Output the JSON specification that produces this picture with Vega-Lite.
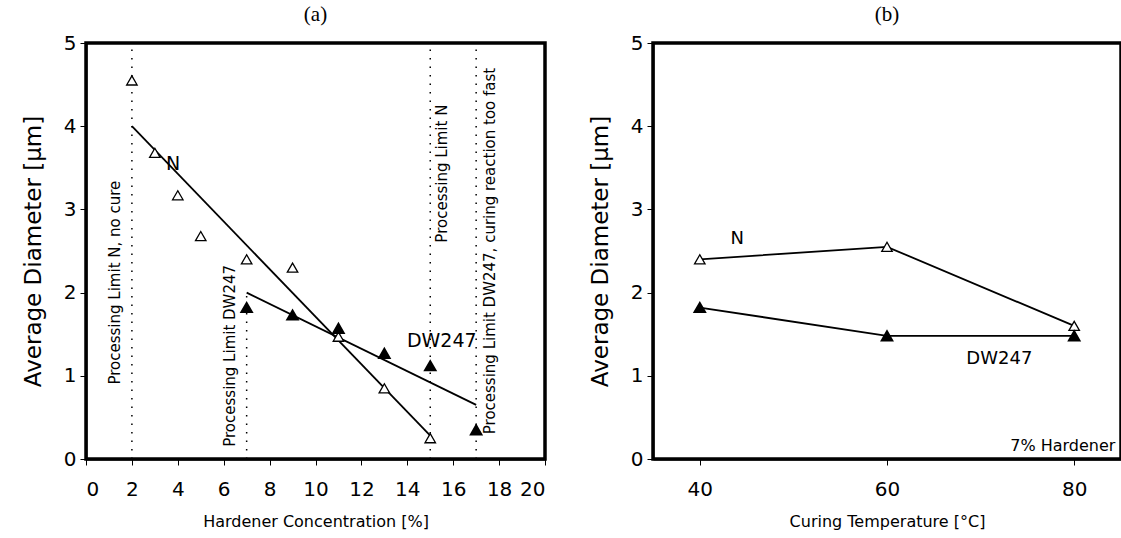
{
  "$schema": "https://vega.github.io/schema/vega-lite/v6.json",
  "background": "white",
  "padding": {"left": 20, "top": 2, "right": 0, "bottom": 0},
  "spacing": 39,
  "config": {
    "view": {"stroke": "black", "strokeWidth": 3.5},
    "font": "DejaVu Sans",
    "axis": {
      "grid": false, "domainColor": "black", "domainWidth": 2, "tickColor": "black", "tickSize": 6,
      "labelColor": "black", "labelFontSize": 20, "labelFont": "DejaVu Sans",
      "titleColor": "black", "titleFontSize": 16, "titleFontWeight": "normal", "titleFont": "DejaVu Sans"
    },
    "axisY": {"titleFontSize": 23, "format": "d"},
    "title": {"font": "Liberation Serif", "fontSize": 21, "fontWeight": "normal", "color": "black", "offset": 8}
  },
  "datasets": {
    "pa": [
      {"x": 2, "y": 4.55, "s": "N"}, {"x": 3, "y": 3.68, "s": "N"}, {"x": 4, "y": 3.17, "s": "N"},
      {"x": 5, "y": 2.68, "s": "N"}, {"x": 7, "y": 2.4, "s": "N"}, {"x": 9, "y": 2.3, "s": "N"},
      {"x": 11, "y": 1.47, "s": "N"}, {"x": 13, "y": 0.85, "s": "N"}, {"x": 15, "y": 0.25, "s": "N"},
      {"x": 7, "y": 1.82, "s": "DW247"}, {"x": 9, "y": 1.73, "s": "DW247"}, {"x": 11, "y": 1.57, "s": "DW247"},
      {"x": 13, "y": 1.27, "s": "DW247"}, {"x": 15, "y": 1.12, "s": "DW247"}, {"x": 17, "y": 0.35, "s": "DW247"}
    ],
    "fa": [
      {"x": 2, "y": 4.0, "s": "N"}, {"x": 15, "y": 0.28, "s": "N"},
      {"x": 7, "y": 2.0, "s": "DW247"}, {"x": 17, "y": 0.65, "s": "DW247"}
    ],
    "ra": [
      {"x": 2, "y": 0, "y2": 5},
      {"x": 7, "y": 0, "y2": 2.0},
      {"x": 15, "y": 0, "y2": 5},
      {"x": 17, "y": 0, "y2": 5}
    ],
    "ta": [
      {"x": 1.26, "y": 2.12, "t": "Processing Limit N, no cure"},
      {"x": 6.27, "y": 1.24, "t": "Processing Limit DW247"},
      {"x": 15.5, "y": 3.43, "t": "Processing Limit N"},
      {"x": 17.6, "y": 2.5, "t": "Processing Limit DW247, curing reaction too fast"}
    ],
    "la": [
      {"x": 3.8, "y": 3.55, "t": "N"},
      {"x": 15.5, "y": 1.42, "t": "DW247"}
    ],
    "pb": [
      {"x": 40, "y": 2.4, "s": "N"}, {"x": 60, "y": 2.55, "s": "N"}, {"x": 80, "y": 1.6, "s": "N"},
      {"x": 40, "y": 1.82, "s": "DW247"}, {"x": 60, "y": 1.48, "s": "DW247"}, {"x": 80, "y": 1.48, "s": "DW247"}
    ],
    "lb": [
      {"x": 44, "y": 2.64, "t": "N"},
      {"x": 72, "y": 1.2, "t": "DW247"}
    ]
  },
  "hconcat": [
    {
      "title": "(a)",
      "width": 459,
      "height": 416,
      "layer": [
        {
          "data": {"name": "ra"},
          "mark": {"type": "rule", "color": "black", "strokeWidth": 1.5, "strokeDash": [1.5, 7]},
          "encoding": {
            "x": {"field": "x", "type": "quantitative", "scale": {"domain": [0, 20], "nice": false},
                  "axis": {"values": [0,2,4,6,8,10,12,14,16,18,20], "title": "Hardener Concentration [%]", "labelPadding": 14, "titlePadding": 14}},
            "y": {"field": "y", "type": "quantitative", "scale": {"domain": [0, 5], "nice": false},
                  "axis": {"values": [0,1,2,3,4,5], "title": "Average Diameter [\u03bcm]", "labelPadding": 4, "titlePadding": 18}},
            "y2": {"field": "y2"}
          }
        },
        {
          "data": {"name": "fa"},
          "mark": {"type": "line", "color": "black", "strokeWidth": 1.8},
          "encoding": {
            "x": {"field": "x", "type": "quantitative"},
            "y": {"field": "y", "type": "quantitative"},
            "detail": {"field": "s"}
          }
        },
        {
          "data": {"name": "pa"},
          "transform": [{"filter": "datum.s === 'N'"}],
          "mark": {"type": "point", "shape": "triangle-up", "filled": true, "fill": "white", "stroke": "black", "strokeWidth": 1.3, "size": 110, "opacity": 1},
          "encoding": {
            "x": {"field": "x", "type": "quantitative"},
            "y": {"field": "y", "type": "quantitative"}
          }
        },
        {
          "data": {"name": "pa"},
          "transform": [{"filter": "datum.s === 'DW247'"}],
          "mark": {"type": "point", "shape": "triangle-up", "filled": true, "fill": "black", "stroke": "black", "size": 110, "opacity": 1},
          "encoding": {
            "x": {"field": "x", "type": "quantitative"},
            "y": {"field": "y", "type": "quantitative"}
          }
        },
        {
          "data": {"name": "ta"},
          "mark": {"type": "text", "angle": 270, "fontSize": 15, "font": "DejaVu Sans", "color": "black", "align": "center", "baseline": "middle"},
          "encoding": {
            "x": {"field": "x", "type": "quantitative"},
            "y": {"field": "y", "type": "quantitative"},
            "text": {"field": "t"}
          }
        },
        {
          "data": {"name": "la"},
          "mark": {"type": "text", "fontSize": 19, "font": "DejaVu Sans", "color": "black", "align": "center", "baseline": "middle"},
          "encoding": {
            "x": {"field": "x", "type": "quantitative"},
            "y": {"field": "y", "type": "quantitative"},
            "text": {"field": "t"}
          }
        }
      ]
    },
    {
      "title": "(b)",
      "width": 468,
      "height": 416,
      "layer": [
        {
          "data": {"name": "pb"},
          "mark": {"type": "line", "color": "black", "strokeWidth": 1.8},
          "encoding": {
            "x": {"field": "x", "type": "quantitative", "scale": {"domain": [35, 85], "nice": false},
                  "axis": {"values": [40, 60, 80], "title": "Curing Temperature [\u00b0C]", "labelPadding": 14, "titlePadding": 14}},
            "y": {"field": "y", "type": "quantitative", "scale": {"domain": [0, 5], "nice": false},
                  "axis": {"values": [0,1,2,3,4,5], "title": "Average Diameter [\u03bcm]", "labelPadding": 4, "titlePadding": 18}},
            "detail": {"field": "s"}
          }
        },
        {
          "data": {"name": "pb"},
          "transform": [{"filter": "datum.s === 'N'"}],
          "mark": {"type": "point", "shape": "triangle-up", "filled": true, "fill": "white", "stroke": "black", "strokeWidth": 1.3, "size": 110, "opacity": 1},
          "encoding": {
            "x": {"field": "x", "type": "quantitative"},
            "y": {"field": "y", "type": "quantitative"}
          }
        },
        {
          "data": {"name": "pb"},
          "transform": [{"filter": "datum.s === 'DW247'"}],
          "mark": {"type": "point", "shape": "triangle-up", "filled": true, "fill": "black", "stroke": "black", "size": 110, "opacity": 1},
          "encoding": {
            "x": {"field": "x", "type": "quantitative"},
            "y": {"field": "y", "type": "quantitative"}
          }
        },
        {
          "data": {"name": "lb"},
          "mark": {"type": "text", "fontSize": 18, "font": "DejaVu Sans", "color": "black", "align": "center", "baseline": "middle"},
          "encoding": {
            "x": {"field": "x", "type": "quantitative"},
            "y": {"field": "y", "type": "quantitative"},
            "text": {"field": "t"}
          }
        },
        {
          "data": {"values": [{"x": 84.4, "y": 0.16, "t": "7% Hardener"}]},
          "mark": {"type": "text", "fontSize": 16, "font": "DejaVu Sans", "color": "black", "align": "right", "baseline": "middle"},
          "encoding": {
            "x": {"field": "x", "type": "quantitative"},
            "y": {"field": "y", "type": "quantitative"},
            "text": {"field": "t"}
          }
        }
      ]
    }
  ]
}
